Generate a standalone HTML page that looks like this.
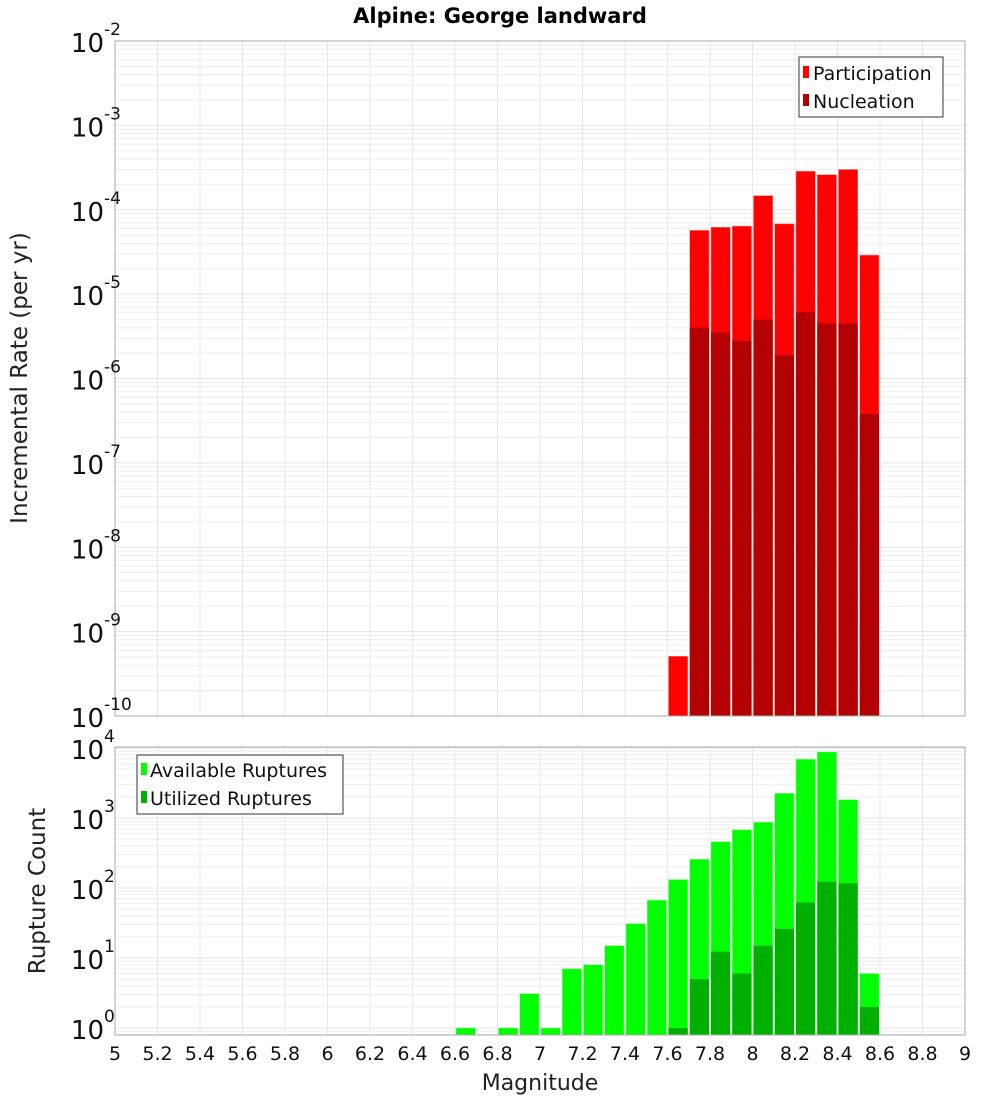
<!DOCTYPE html>
<html><head><meta charset="utf-8"><style>
body{margin:0;background:#fff;width:1000px;height:1100px;overflow:hidden}
svg{font-family:"DejaVu Sans","Liberation Sans",sans-serif}
</style></head><body>
<svg id="c" width="1000" height="1100"></svg>
<script>
const mags=[6.6,6.7,6.8,6.9,7.0,7.1,7.2,7.3,7.4,7.5,7.6,7.7,7.8,7.9,8.0,8.1,8.2,8.3,8.4,8.5];
const partMags=[7.6,7.7,7.8,7.9,8.0,8.1,8.2,8.3,8.4,8.5];
const participation=[5.1e-10,5.7e-5,6.2e-5,6.4e-5,1.47e-4,6.8e-5,2.86e-4,2.6e-4,3.0e-4,2.9e-5];
const nucleation=[0,4.0e-6,3.5e-6,2.8e-6,5.0e-6,1.9e-6,6.1e-6,4.5e-6,4.5e-6,3.8e-7];
const available=[1,0,1,3.1,1,7,8,15,31,67,132,257,458,678,870,2250,6900,8770,1820,6];
const utilized=[0,0,0,0,0,0,0,0,0,0,1,5,12.3,6,15,26,62,123,117,2];
const xTicks=["5","5.2","5.4","5.6","5.8","6","6.2","6.4","6.6","6.8","7","7.2","7.4","7.6","7.8","8","8.2","8.4","8.6","8.8","9"];
const topExp=[-2,-3,-4,-5,-6,-7,-8,-9,-10];
const botExp=[4,3,2,1,0];

const NS="http://www.w3.org/2000/svg";
const svg=document.getElementById('c');
function el(t,a,p){const e=document.createElementNS(NS,t);for(const k in a)e.setAttribute(k,a[k]);(p||svg).appendChild(e);return e;}
const X0=115,X1=965;
const xs=m=>X0+(m-5)/4*(X1-X0);
const T0=41,T1=716;
const yT=v=>T0+(-2-Math.log10(v))*(T1-T0)/8;
const B0=747,B1=1035;
const yB=v=>748+(4-Math.log10(v))*70;
const bw=(X1-X0)/40;

function grid(top,bot,yf,emax,emin){
  const g=el('g',{});
  
  
  for(let e=emin-1;e<=emax;e++){for(let k=1;k<10;k++){const v=k*Math.pow(10,e);const y=yf(v);if(y<top||y>bot)continue;
    el('line',{x1:X0,x2:X1,y1:y,y2:y,stroke:k==1?'#e4e4e4':'#eeeeee','stroke-width':1},g);}}
  xTicks.forEach(t=>{const x=xs(+t);el('line',{x1:x,x2:x,y1:top,y2:bot,stroke:'#e8e8e8'},g);});
}
grid(T0,T1,yT,-2,-10);
grid(B0,B1,yB,4,-1);

// top bars
partMags.forEach((m,i)=>{
  const x=xs(m)+1;
  const r=el('rect',{x:x,y:yT(participation[i]),width:bw-2,height:T1-yT(participation[i]),fill:'#ff0000',stroke:'#ff8080','stroke-width':0.5});
  
  
  if(nucleation[i]>0){
    const n=el('rect',{x:x,y:yT(nucleation[i]),width:bw-2,height:T1-yT(nucleation[i]),fill:'#b30000'});
    
    
  }
});
// bottom bars
mags.forEach((m,i)=>{
  const x=xs(m)+1;
  if(available[i]>0){
    const r=el('rect',{x:x,y:yB(available[i]),width:bw-2,height:B1-yB(available[i]),fill:'#00ff00',stroke:'#80ff80','stroke-width':0.5});
    
    
  }
  if(utilized[i]>0){
    const n=el('rect',{x:x,y:yB(utilized[i]),width:bw-2,height:B1-yB(utilized[i]),fill:'#00b000'});
    
    
  }
});
// frames
el('rect',{x:X0,y:T0,width:X1-X0,height:T1-T0,fill:'none',stroke:'#aaa'});
el('rect',{x:X0,y:B0,width:X1-X0,height:B1-B0,fill:'none',stroke:'#aaa'});
// y tick labels
function ylab(y,e){
  const t=el('text',{x:104,y:y+11,'text-anchor':'end','font-size':26,fill:'#111'});
  
  
  t.textContent='10';
  const s=el('text',{x:104,y:y-6,'font-size':17,fill:'#111'});
  
  
  s.textContent=String(e);
}
topExp.forEach(e=>ylab(yT(Math.pow(10,e)),e));
botExp.forEach(e=>ylab(yB(Math.pow(10,e)),e));
xTicks.forEach(t=>{const x=xs(+t);
  const l=el('text',{x:x,y:1060,'text-anchor':'middle','font-size':19,fill:'#111'});
  
  
  l.textContent=t;});
</script>
<svg width="1000" height="1100" style="position:absolute;left:0;top:0">
<text x="500" y="23" text-anchor="middle" font-size="21" font-weight="bold" fill="#000">Alpine: George landward</text>
<text transform="translate(27,378) rotate(-90)" text-anchor="middle" font-size="23" fill="#222">Incremental Rate (per yr)</text>
<text transform="translate(45,891) rotate(-90)" text-anchor="middle" font-size="23" fill="#222">Rupture Count</text>
<text x="540" y="1090" text-anchor="middle" font-size="22" fill="#222">Magnitude</text>
<g>
<rect x="799" y="57" width="144" height="60" fill="#fff" stroke="#333"/>
<rect x="803" y="66" width="6" height="12" fill="#ff0000"/>
<text x="813" y="80" font-size="19" fill="#111">Participation</text>
<rect x="803" y="94" width="6" height="12" fill="#b30000"/>
<text x="813" y="108" font-size="19" fill="#111">Nucleation</text>
</g>
<g>
<rect x="137" y="755" width="206" height="59" fill="#fff" stroke="#333"/>
<rect x="141" y="763" width="6" height="12" fill="#00ff00"/>
<text x="150" y="777" font-size="19" fill="#111">Available Ruptures</text>
<rect x="141" y="791" width="6" height="12" fill="#00b000"/>
<text x="150" y="805" font-size="19" fill="#111">Utilized Ruptures</text>
</g>
</svg>
</body></html>
